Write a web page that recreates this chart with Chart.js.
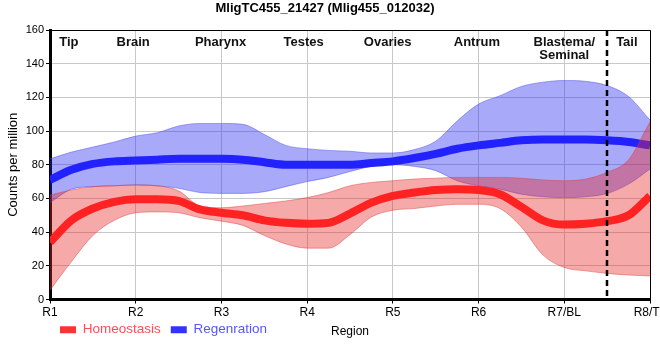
<!DOCTYPE html>
<html>
<head>
<meta charset="utf-8">
<script src="https://cdn.jsdelivr.net/npm/chart.js@4.4.1/dist/chart.umd.min.js"></script>
<style>
    html, body { margin: 0; padding: 0; background: #fff; }
    #wrap { width: 660px; height: 360px; }
</style>
</head>
<body>
<div id="wrap"><canvas id="chart"></canvas></div>
<script>
// Chart data
const chartTitle = 'MligTC455_21427 (Mlig455_012032)';
const regionTicks = ['R1', 'R2', 'R3', 'R4', 'R5', 'R6', 'R7/BL', 'R8/TL'];
const regionNames = ['Tip', 'Brain', 'Pharynx', 'Testes', 'Ovaries', 'Antrum', ['Blastema/', 'Seminal'], 'Tail'];
const regionNamePos = [1.22, 1.97, 2.99, 3.96, 4.94, 5.98, 7.0, 7.73];
const tailBoundary = 7.5;

const samplePos = [1, 1.25, 1.5, 1.75, 2, 2.25, 2.5, 2.75, 3, 3.25, 3.5, 3.75, 4, 4.25, 4.5,
    4.75, 5, 5.25, 5.5, 5.75, 6, 6.25, 6.5, 6.75, 7, 7.25, 7.5, 7.75, 8];

const homMean = [34, 47, 54, 58, 59.5, 59.5, 58.5, 53.5, 51.5, 50, 47, 45.5, 45, 45.5, 51,
    57.5, 61.5, 63.5, 65, 65.5, 65, 62.5, 55, 47, 44.5, 45, 46.5, 50, 61.5];
const homLow = [5.5, 22.5, 38, 47, 51.5, 52, 51.5, 48.5, 46.5, 44, 38, 33, 30.5, 30.5, 38.5,
    49, 53, 54, 55.5, 56.5, 56.5, 54, 43, 26.5, 19, 17, 15.5, 14.5, 14];
const homHigh = [62, 65, 67, 67.5, 68, 67.5, 64.5, 55.5, 54.5, 55.5, 57, 58.5, 60.5, 63.5, 67.5,
    69.5, 70.5, 71.5, 72, 72.5, 72.5, 72.5, 72, 71, 70.5, 71.5, 75.5, 83, 105.5];

const regMean = [71, 77, 80.5, 82, 82.5, 83, 83.5, 83.5, 83.5, 83, 81.5, 80, 80, 80, 80,
    81, 82, 84, 86.5, 89.5, 91.5, 93, 94.5, 95, 95, 95, 94.5, 93.5, 91.5];
const regLow = [57.5, 65.5, 67, 67.5, 68, 67.5, 66, 63.5, 63, 63, 64, 67, 70, 72.5, 76,
    79, 80, 79, 76.5, 70.5, 67.5, 65.5, 62.5, 61, 60.5, 61, 63, 68.5, 77.5];
const regHigh = [83.5, 87.5, 90.5, 93.5, 97, 99, 103, 104.5, 104.5, 104, 98, 91.5, 89.5, 88.5, 88,
    87, 87, 89, 94, 106, 116, 121, 126.5, 129, 130, 129.5, 127, 120.5, 106.5];

const FONT = '"Liberation Sans", Arial, sans-serif';

function toPoints(values) {
    return values.map((v, i) => ({ x: samplePos[i], y: v }));
}

// legend entries: only the two mean lines
const legendEntries = [
    { index: 0, box: '#ff3333', text: '#ff4d55' },
    { index: 3, box: '#3333ff', text: '#5555ff' }
];

// legend sits on the same row as the x axis title
const legendRow = {
    id: 'legendRow',
    afterLayout(chart) {
        const lg = chart.legend;
        if (!lg) return;
        const h = lg.bottom - lg.top;
        lg.top = chart.chartArea.bottom + 13.5;
        lg.bottom = lg.top + h;
    }
};

// frame, dashed tail boundary, region names, x title
const regionDecor = {
    id: 'regionDecor',
    afterDatasetsDraw(chart) {
        const { ctx, chartArea: a, scales: { x } } = chart;
        ctx.save();

        ctx.strokeStyle = '#000';
        ctx.lineWidth = 1;
        ctx.beginPath();
        ctx.moveTo(a.left, a.top + 0.5);
        ctx.lineTo(a.right + 0.5, a.top + 0.5);
        ctx.lineTo(a.right + 0.5, a.bottom);
        ctx.stroke();

        const dx = Math.round(x.getPixelForValue(tailBoundary));
        ctx.lineWidth = 2.5;
        ctx.setLineDash([6, 4]);
        ctx.beginPath();
        ctx.moveTo(dx, a.top);
        ctx.lineTo(dx, a.bottom);
        ctx.stroke();
        ctx.setLineDash([]);

        ctx.fillStyle = '#111';
        ctx.font = 'bold 13px ' + FONT;
        ctx.textAlign = 'center';
        ctx.textBaseline = 'alphabetic';
        regionNames.forEach((name, i) => {
            const lines = Array.isArray(name) ? name : [name];
            const px = x.getPixelForValue(regionNamePos[i]);
            lines.forEach((t, j) => ctx.fillText(t, px, a.top + 16 + j * 13));
        });

        ctx.fillStyle = '#000';
        ctx.font = '12px ' + FONT;
        ctx.fillText('Region', (a.left + a.right) / 2, 335);
        ctx.restore();
    }
};

const ctx = document.getElementById('chart').getContext('2d');
new Chart(ctx, {
    type: 'line',
    data: {
        datasets: [
            {
                label: 'Homeostasis',
                data: toPoints(homMean),
                borderColor: '#ff2222',
                borderWidth: 8,
                fill: false
            },
            {
                label: 'hom upper',
                data: toPoints(homHigh),
                borderColor: 'rgba(215, 60, 60, 0.45)',
                borderWidth: 1,
                backgroundColor: 'rgba(232, 40, 40, 0.4)',
                fill: '+1'
            },
            {
                label: 'hom lower',
                data: toPoints(homLow),
                borderColor: 'rgba(215, 60, 60, 0.45)',
                borderWidth: 1,
                fill: false
            },
            {
                label: 'Regenration',
                data: toPoints(regMean),
                borderColor: '#2222ff',
                borderWidth: 8,
                fill: false
            },
            {
                label: 'reg upper',
                data: toPoints(regHigh),
                borderColor: 'rgba(70, 70, 230, 0.45)',
                borderWidth: 1,
                backgroundColor: 'rgba(40, 40, 240, 0.4)',
                fill: '+1'
            },
            {
                label: 'reg lower',
                data: toPoints(regLow),
                borderColor: 'rgba(70, 70, 230, 0.45)',
                borderWidth: 1,
                fill: false
            }
        ]
    },
    options: {
        responsive: true,
        maintainAspectRatio: false,
        animation: false,
        layout: {
            padding: { left: 0, right: 10, top: 0, bottom: 7 }
        },
        elements: {
            point: { radius: 0 },
            line: { cubicInterpolationMode: 'monotone' }
        },
        plugins: {
            title: {
                display: true,
                text: chartTitle,
                color: '#000',
                font: { size: 13, weight: 'bold', family: FONT },
                padding: { top: 1, bottom: 13.4 }
            },
            legend: {
                position: 'bottom',
                align: 'start',
                fullSize: false,
                labels: {
                    boxWidth: 16,
                    boxHeight: 7,
                    padding: 10,
                    font: { size: 13.5, family: FONT },
                    generateLabels: (c) => legendEntries.map(e => ({
                        text: c.data.datasets[e.index].label,
                        fillStyle: e.box,
                        strokeStyle: e.box,
                        lineWidth: 0,
                        fontColor: e.text,
                        hidden: false,
                        datasetIndex: e.index
                    }))
                }
            },
            tooltip: { enabled: false }
        },
        scales: {
            x: {
                type: 'linear',
                min: 1,
                max: 8,
                afterFit: (scale) => {
                    scale.paddingLeft = 0;
                    scale.paddingRight = 0;
                    scale.height = 20;
                },
                ticks: {
                    stepSize: 1,
                    padding: 2,
                    color: '#000',
                    font: { size: 12, family: FONT },
                    callback: (v) => regionTicks[v - 1]
                },
                grid: {
                    color: '#c8c8c8',
                    tickColor: '#000',
                    tickLength: 4
                },
                border: { color: '#000', width: 3 }
            },
            y: {
                min: 0,
                max: 160,
                afterFit: (scale) => { scale.width = 50; },
                ticks: {
                    stepSize: 20,
                    padding: 2,
                    color: '#000',
                    font: { size: 11, family: FONT }
                },
                grid: {
                    color: '#c8c8c8',
                    tickColor: '#000',
                    tickLength: 4
                },
                border: { color: '#000', width: 3 },
                title: {
                    display: true,
                    text: 'Counts per million',
                    color: '#000',
                    font: { size: 13, family: FONT },
                    padding: { top: 6, bottom: 0 }
                }
            }
        }
    },
    plugins: [legendRow, regionDecor]
});
</script>
</body>
</html>
